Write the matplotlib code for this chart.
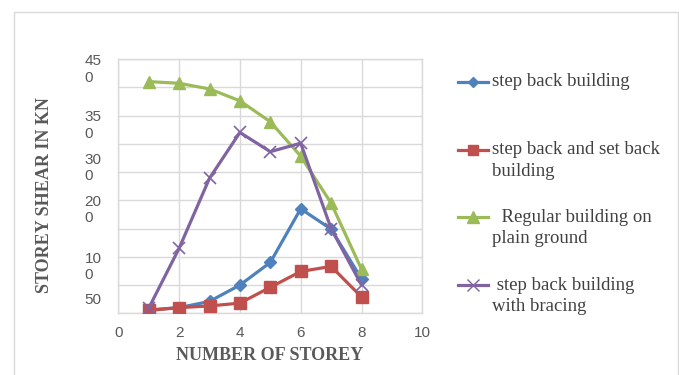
import matplotlib
matplotlib.use('Agg')
import matplotlib.pyplot as plt
from matplotlib.lines import Line2D
from matplotlib.patches import Rectangle

# ---- data ----
storeys = [1, 2, 3, 4, 5, 6, 7, 8]
step_back = [6, 10, 21, 50, 90, 185, 149, 61]
step_set_back = [5, 10, 13, 18, 46, 74, 83, 29]
regular = [410, 407, 397, 376, 339, 278, 195, 78]
bracing = [9, 115, 239, 320, 286, 301, 150, 50]

x_ticks = [0, 2, 4, 6, 8, 10]
y_grid = [0, 50, 100, 150, 200, 250, 300, 350, 400, 450]
y_label_pos = [436, 337, 262, 188, 87, 27]
y_label_text = ["45\n0", "35\n0", "30\n0", "20\n0", "10\n0", "50"]

series_names = ["step back building", "step back and set back\nbuilding",
                "  Regular building on\nplain ground", " step back building\nwith bracing"]

colors = ["#4F81BD", "#C0504D", "#9BBB59", "#8064A2"]
markers = ["D", "s", "^", "x"]
msizes = [6, 8.5, 9, 9]
series = [step_back, step_set_back, regular, bracing]

W, H = 679, 375
fig = plt.figure(figsize=(W / 100, H / 100), dpi=100)
ax = fig.add_axes([118.3 / W, 1 - 313.3 / H, (422.3 - 118.3) / W, (313.3 - 59) / H])

for ys, c, m, ms in zip(series, colors, markers, msizes):
    ax.plot(storeys, ys, color=c, lw=2.3, marker=m, markersize=ms,
            markerfacecolor=c, markeredgecolor=c,
            markeredgewidth=1.2 if m == 'x' else 1, zorder=3)

ax.set_xlim(0, 10)
ax.set_ylim(0, 450)
ax.set_xticks(x_ticks)
ax.set_yticks(y_label_pos)
ax.set_yticklabels(y_label_text, multialignment='left')
ax.set_yticks(y_grid, minor=True)
ax.grid(False)
ax.yaxis.grid(True, which='minor', color='#d9d9d9', lw=1)
ax.xaxis.grid(True, which='major', color='#d9d9d9', lw=1)
ax.set_axisbelow(True)
for s in ax.spines.values():
    s.set_color('#d9d9d9')
    s.set_linewidth(1)
ax.tick_params(axis='both', which='both', length=0, colors='#595959',
               labelsize=11)
ax.tick_params(axis='x', pad=9)
ax.tick_params(axis='y', pad=12)
for t in ax.get_xticklabels() + ax.get_yticklabels():
    t.set_family('Liberation Sans')
    t.set_color('#595959')

fig.text(270 / W, 1 - 356 / H, "NUMBER OF STOREY", family='Liberation Serif',
         weight='bold', fontsize=13, color='#595959', ha='center', va='center')
fig.text(45 / W, 1 - 195 / H, "STOREY SHEAR IN KN", family='Liberation Serif',
         weight='bold', fontsize=13, color='#595959', ha='center', va='center',
         rotation=90)

# ---- legend (manual layout) ----
leg_y = [82, 150, 217, 285]
for name, c, m, ms, yy in zip(series_names, colors, markers, msizes, leg_y):
    yf = 1 - yy / H
    fig.add_artist(Line2D([458.3 / W, 488.3 / W], [yf, yf], color=c, lw=2.3,
                          transform=fig.transFigure))
    fig.add_artist(Line2D([473.3 / W], [yf], color=c, marker=m,
                          markersize=ms * 0.9, markerfacecolor=c, markeredgecolor=c,
                          transform=fig.transFigure))
    for i, ln in enumerate(name.split('\n')):
        fig.text(492 / W, 1 - (yy + i * 21.5) / H, ln, family='Liberation Serif',
                 fontsize=13.5, color='#404040', ha='left', va='center')

fig.add_artist(Rectangle((13.5 / W, -0.05), (677.5 - 13.5) / W, 1.05 - 12 / H,
                         transform=fig.transFigure, fill=False,
                         edgecolor='#d9d9d9', lw=1))

fig.savefig('out.png', dpi=100)
